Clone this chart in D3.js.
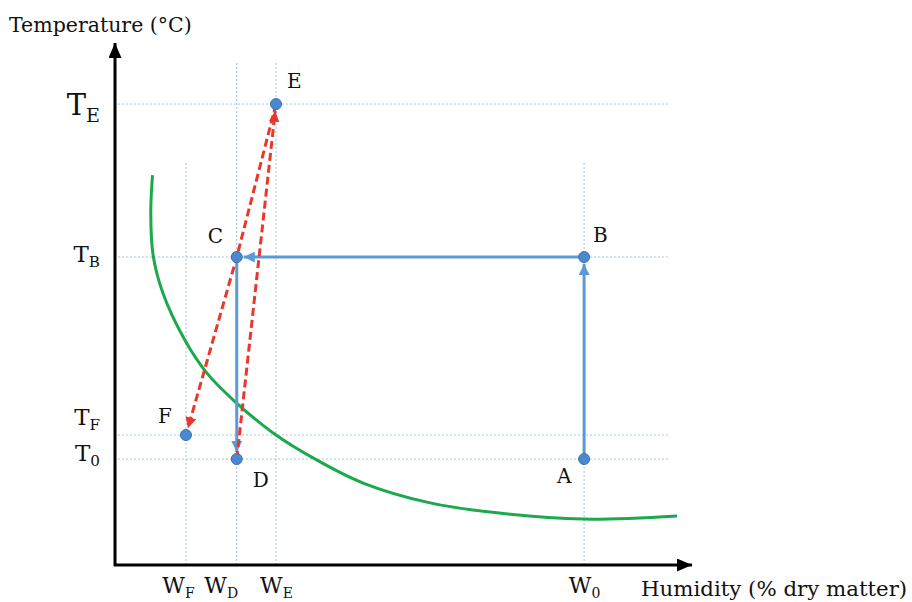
<!DOCTYPE html>
<html>
<head>
<meta charset="utf-8">
<script src="https://cdn.jsdelivr.net/npm/d3@7"></script>
<style>
  body { margin: 0; background: #fff; }
  svg { display: block; }
  text { font-family: "DejaVu Serif", serif; fill: #111; }
</style>
</head>
<body>
<div id="chart"></div>
<script>
// drying path points (humidity in arbitrary units, temperature in arbitrary units)
const pointNames = ["A", "B", "C", "D", "E", "F"];
const pointW = [81.3, 81.3, 21.1, 21.1, 27.9, 12.3];
const pointT = [20.3, 59.0, 59.0, 20.3, 88.3, 24.9];

// axis ticks
const tickT = [88.3, 59.0, 24.9, 20.3];
const tickTSub = ["E", "B", "F", "0"];
const tickW = [12.3, 21.1, 27.9, 81.3];
const tickWSub = ["F", "D", "E", "0"];
const tickWTop = [77.0, 96.4, 96.4, 77.0];

// sorption / equilibrium curve
const curveW = [6.5, 6.2, 6.6, 8.3, 12.1, 15.9, 20.5, 27.4, 35.0, 43.0, 54.6, 66.2, 81.1, 97.4];
const curveT = [74.7, 67.6, 59.4, 52.1, 43.1, 36.8, 31.6, 25.3, 20.1, 15.7, 11.9, 10.0, 8.8, 9.4];

// process steps
const blueSteps = [["A", "B"], ["B", "C"], ["C", "D"]];
const redSteps = [["D", "E"], ["E", "C", "F"]];

const width = 912, height = 602;
const svg = d3.select("#chart").append("svg")
  .attr("width", width).attr("height", height);

const x = d3.scaleLinear().domain([0, 100]).range([115, 692]);
const y = d3.scaleLinear().domain([0, 100]).range([565, 43]);

const pt = {};
pointNames.forEach((n, i) => pt[n] = [x(pointW[i]), y(pointT[i])]);

const blue = "#5b9bd5", red = "#e8382b", grid = "#9dc3e6";

// markers
const defs = svg.append("defs");
function marker(id, color, len, wid) {
  defs.append("marker")
    .attr("id", id)
    .attr("markerUnits", "userSpaceOnUse")
    .attr("viewBox", `0 ${-wid / 2} ${len} ${wid}`)
    .attr("refX", len).attr("refY", 0)
    .attr("markerWidth", len).attr("markerHeight", wid)
    .attr("orient", "auto")
    .append("path")
    .attr("d", `M0,${-wid / 2}L${len},0L0,${wid / 2}Z`)
    .attr("fill", color);
}
marker("arrBlack", "#000", 15, 13);
marker("arrBlue", blue, 11, 11);
marker("arrRed", red, 11, 11);

// grid lines
svg.append("g").selectAll("line").data(tickT).join("line")
  .attr("x1", x(0.5)).attr("x2", x(95.8))
  .attr("y1", d => y(d)).attr("y2", d => y(d))
  .attr("stroke", grid).attr("stroke-width", 1).attr("stroke-dasharray", "2,2");
svg.append("g").selectAll("line").data(tickW).join("line")
  .attr("x1", d => x(d)).attr("x2", d => x(d))
  .attr("y1", y(0)).attr("y2", (d, i) => y(tickWTop[i]))
  .attr("stroke", grid).attr("stroke-width", 1).attr("stroke-dasharray", "2,2");

// axes: tick labels from d3 axes, domain lines drawn with arrows
const yAxis = svg.append("g").attr("transform", `translate(${x(0)},0)`)
  .call(d3.axisLeft(y).tickValues(tickT).tickSize(0).tickPadding(15).tickFormat(() => "T"));
yAxis.select(".domain").remove();
const yLabelShift = [10, 4, -11, 1];
const yLabelSize = [29, 23, 23, 23];
yAxis.selectAll(".tick text").each(function (d, i) {
  const t = d3.select(this);
  t.attr("font-family", "DejaVu Serif").attr("font-size", yLabelSize[i])
    .attr("fill", "#111").attr("dy", null).attr("y", yLabelShift[i])
    .text(null);
  t.append("tspan").text("T");
  t.append("tspan").attr("dy", yLabelSize[i] * 0.25)
    .attr("font-size", yLabelSize[i] * 0.66).text(tickTSub[i]);
});

const xAxis = svg.append("g").attr("transform", `translate(0,${y(0)})`)
  .call(d3.axisBottom(x).tickValues(tickW).tickSize(0).tickPadding(0).tickFormat(() => "W"));
xAxis.select(".domain").remove();
const xLabelShift = [-8, -16, 0, 0];
xAxis.selectAll(".tick text").each(function (d, i) {
  const t = d3.select(this);
  t.attr("font-family", "DejaVu Serif").attr("font-size", 22)
    .attr("fill", "#111").attr("dy", null).attr("y", 28).attr("x", xLabelShift[i])
    .text(null);
  t.append("tspan").text("W");
  t.append("tspan").attr("dy", 5).attr("font-size", 14).text(tickWSub[i]);
});

svg.append("line")
  .attr("x1", x(0)).attr("y1", y(0) + 1).attr("x2", x(0)).attr("y2", y(100))
  .attr("stroke", "#000").attr("stroke-width", 3).attr("marker-end", "url(#arrBlack)");
svg.append("line")
  .attr("x1", x(0) - 1).attr("y1", y(0)).attr("x2", x(100)).attr("y2", y(0))
  .attr("stroke", "#000").attr("stroke-width", 3).attr("marker-end", "url(#arrBlack)");

svg.append("text").attr("x", 9).attr("y", 32)
  .attr("font-size", 20.5).text("Temperature (°C)");
svg.append("text").attr("x", 641).attr("y", 596)
  .attr("font-size", 21.3).text("Humidity (% dry matter)");

// curve
svg.append("path")
  .datum(curveW.map((w, i) => [w, curveT[i]]))
  .attr("fill", "none").attr("stroke", "#1ca84c").attr("stroke-width", 3)
  .attr("d", d3.line().x(d => x(d[0])).y(d => y(d[1])).curve(d3.curveCatmullRom.alpha(0.5)));

// shorten the last segment so the arrowhead stops at the dot
function stepPath(names, gap) {
  const p = names.map(n => pt[n].slice());
  const a = p[p.length - 2], b = p[p.length - 1];
  const dx = b[0] - a[0], dy = b[1] - a[1], L = Math.hypot(dx, dy);
  p[p.length - 1] = [b[0] - dx / L * gap, b[1] - dy / L * gap];
  return d3.line()(p);
}

svg.append("g").selectAll("path").data(blueSteps).join("path")
  .attr("d", d => stepPath(d, 7))
  .attr("fill", "none").attr("stroke", blue).attr("stroke-width", 3)
  .attr("marker-end", "url(#arrBlue)");

svg.append("g").selectAll("path").data(redSteps).join("path")
  .attr("d", d => stepPath(d, 7))
  .attr("fill", "none").attr("stroke", red).attr("stroke-width", 3)
  .attr("stroke-dasharray", "8,4")
  .attr("marker-end", "url(#arrRed)");

// points
svg.append("g").selectAll("circle").data(pointNames).join("circle")
  .attr("cx", d => pt[d][0]).attr("cy", d => pt[d][1]).attr("r", 5.5)
  .attr("fill", "#4a89cf").attr("stroke", "#3a70b0").attr("stroke-width", 1);

const labelOffset = { A: [-27, 24], B: [9, -15], C: [-29, -14], D: [16, 28], E: [11, -16], F: [-28, -12] };
svg.append("g").selectAll("text").data(pointNames).join("text")
  .attr("x", d => pt[d][0] + labelOffset[d][0])
  .attr("y", d => pt[d][1] + labelOffset[d][1])
  .attr("font-size", 20).text(d => d);
</script>
</body>
</html>
